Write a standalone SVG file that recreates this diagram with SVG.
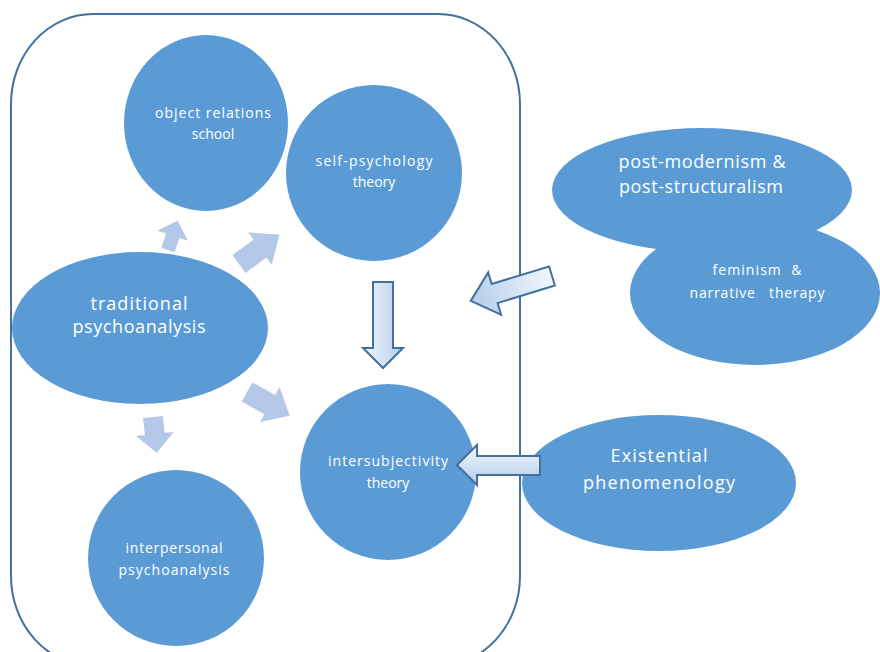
<svg xmlns="http://www.w3.org/2000/svg" width="880" height="652" viewBox="0 0 880 652">
<defs>
<style>
.node{fill:#5B9BD5;}
.t{fill:#FFFFFF;font-family:"Open Sans","Liberation Sans",sans-serif;text-anchor:middle;}
.s{font-size:14px;}
.l{font-size:18px;}
.pre{white-space:pre;}
.solid{fill:#B4C8E8;}
.out{fill:url(#g);stroke:#41719C;stroke-width:2;stroke-linejoin:miter;}
</style>
<linearGradient id="g" x1="0" y1="0" x2="1" y2="0">
<stop offset="0" stop-color="#F2F7FC"/>
<stop offset="1" stop-color="#B3CDEA"/>
</linearGradient>
<linearGradient id="gv" x1="0" y1="0" x2="0" y2="1">
<stop offset="0" stop-color="#F2F7FC"/>
<stop offset="1" stop-color="#B3CDEA"/>
</linearGradient>
</defs>
<rect x="11" y="14" width="509" height="652" rx="82" ry="90" fill="none" stroke="#41719C" stroke-width="2"/>
<g id="object-relations">
<ellipse class="node" cx="206" cy="123" rx="82" ry="88"/>
<text class="t s" x="213" y="118" textLength="116" lengthAdjust="spacing">object relations</text>
<text class="t s" x="213" y="139">school</text>
</g>
<g id="self-psychology">
<circle class="node" cx="374" cy="173" r="88"/>
<text class="t s" x="374" y="166" textLength="117" lengthAdjust="spacing">self-psychology</text>
<text class="t s" x="374" y="187">theory</text>
</g>
<g id="traditional">
<ellipse class="node" cx="140" cy="328" rx="128" ry="76"/>
<text class="t l" x="139" y="310" textLength="97" lengthAdjust="spacing">traditional</text>
<text class="t l" x="139" y="333" textLength="133" lengthAdjust="spacing">psychoanalysis</text>
</g>
<g id="intersubjectivity">
<circle class="node" cx="388" cy="472" r="88"/>
<text class="t s" x="388" y="466" textLength="120" lengthAdjust="spacing">intersubjectivity</text>
<text class="t s" x="388" y="488">theory</text>
</g>
<g id="interpersonal">
<circle class="node" cx="176" cy="558" r="88"/>
<text class="t s" x="174" y="553" textLength="97" lengthAdjust="spacing">interpersonal</text>
<text class="t s" x="174" y="575" textLength="111" lengthAdjust="spacing">psychoanalysis</text>
</g>
<g id="postmodernism">
<ellipse class="node" cx="702" cy="190" rx="150" ry="62"/>
<text class="t l" x="702" y="168" textLength="167" lengthAdjust="spacing">post-modernism &amp;</text>
<text class="t l" x="701" y="193" textLength="164" lengthAdjust="spacing">post-structuralism</text>
</g>
<g id="feminism">
<ellipse class="node" cx="755" cy="293" rx="125" ry="72"/>
<text class="t s pre" x="757" y="275" textLength="89" lengthAdjust="spacing">feminism  &amp;</text>
<text class="t s pre" x="757" y="298" textLength="135" lengthAdjust="spacing">narrative   therapy</text>
</g>
<g id="existential">
<ellipse class="node" cx="659" cy="483" rx="137" ry="68"/>
<text class="t l" x="659" y="462" textLength="97" lengthAdjust="spacing">Existential</text>
<text class="t l" x="659" y="489" textLength="152" lengthAdjust="spacing">phenomenology</text>
</g>
<g id="connectors">
<polygon class="solid" transform="translate(168,250) rotate(-72)" points="0,-7 15,-7 15,-16 31,0 15,16 15,7 0,7"/>
<polygon class="solid" transform="translate(239,264) rotate(-36)" points="0,-11 26,-11 26,-20 50,0 26,20 26,11 0,11"/>
<polygon class="solid" transform="translate(247,392) rotate(29)" points="0,-11 26,-11 26,-20 49,0 26,20 26,11 0,11"/>
<polygon class="solid" transform="translate(153,417) rotate(84)" points="0,-10 17,-10 17,-19 36,0 17,19 17,10 0,10"/>
<polygon class="out" points="373,282 393,282 393,348 403,348 383,368 363,348 373,348"/>
<polygon class="out" transform="translate(552,276) rotate(163)" points="0,-10 60,-10 60,-22 85,0 60,22 60,10 0,10"/>
<polygon class="out" style="fill:url(#gv)" points="540,456 477,456 477,445 457,465 477,485 477,475 540,475"/>
</g>
</svg>
